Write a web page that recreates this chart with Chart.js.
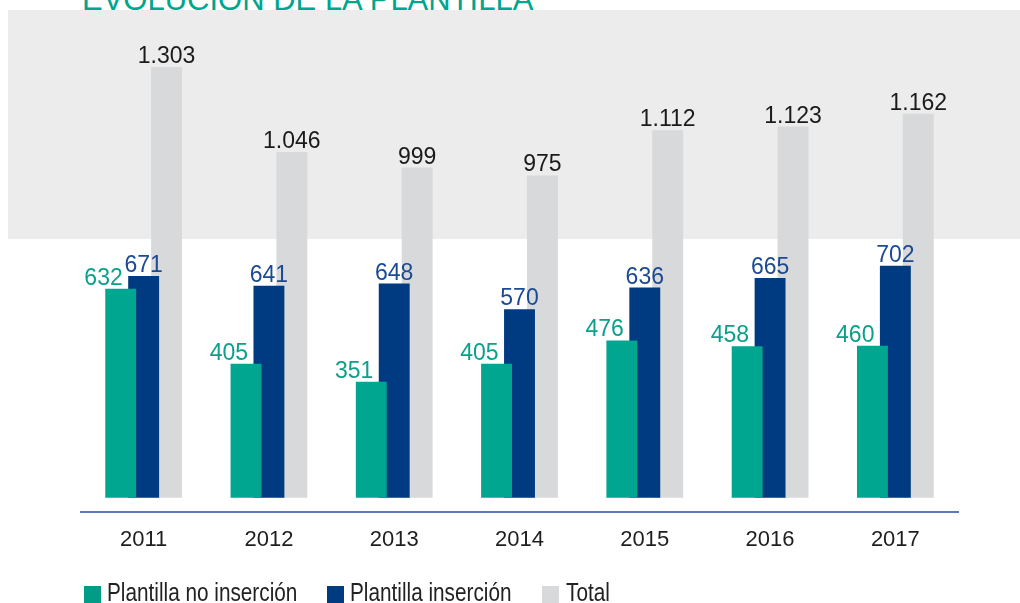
<!DOCTYPE html>
<html>
<head>
<meta charset="utf-8">
<script src="https://cdn.jsdelivr.net/npm/chart.js@4.4.0/dist/chart.umd.min.js"></script>
<style>
  body { margin: 0; width: 1020px; height: 603px; overflow: hidden; background: #fff; position: relative; font-family: "Liberation Sans", Arial, sans-serif; }
  .titulo { position: absolute; left: 82px; top: -16px; font-size: 31px; line-height: 31px; color: #00a58e; white-space: nowrap; }
  .banda { position: absolute; left: 8px; top: 10px; right: 0; height: 229px; background: #ebeceb; }
  #grafico { position: absolute; left: 0; top: 0; }
  .cuadro { position: absolute; top: 586px; width: 17px; height: 17px; }
  .texto { position: absolute; top: 580px; font-size: 25px; line-height: 25px; color: #222; white-space: nowrap; transform: scaleX(0.83); transform-origin: left top; }
</style>
</head>
<body>
<div class="titulo">EVOLUCIÓN DE LA PLANTILLA</div>
<div class="banda"></div>
<canvas id="grafico" width="1020" height="603"></canvas>
<div class="cuadro" style="left:84px; background:#009c86"></div>
<div class="texto" style="left:107px">Plantilla no inserción</div>
<div class="cuadro" style="left:327px; background:#003a80"></div>
<div class="texto" style="left:350px">Plantilla inserción</div>
<div class="cuadro" style="left:542px; background:#d8d9db"></div>
<div class="texto" style="left:566px">Total</div>
<script>
const anios = ['2011', '2012', '2013', '2014', '2015', '2016', '2017'];
const noInsercion = [632, 405, 351, 405, 476, 458, 460];
const insercion = [671, 641, 648, 570, 636, 665, 702];
const total = [1303, 1046, 999, 975, 1112, 1123, 1162];

// formato con punto de miles
function miles(v) {
  return String(v).replace(/\B(?=(\d{3})+(?!\d))/g, '.');
}

const etiquetas = {
  id: 'etiquetas',
  afterDatasetsDraw(chart) {
    const ctx = chart.ctx;
    ctx.save();
    ctx.font = '23px "Liberation Sans", Arial, sans-serif';
    ctx.textBaseline = 'alphabetic';
    chart.data.datasets.forEach((ds, i) => {
      chart.getDatasetMeta(i).data.forEach((bar, j) => {
        ctx.fillStyle = ds.labelColor;
        if (i === 0) {
          ctx.textAlign = 'right';
          ctx.fillText(miles(ds.data[j]), bar.x + 2, bar.y - 4);
        } else {
          ctx.textAlign = 'center';
          ctx.fillText(miles(ds.data[j]), bar.x, bar.y - 4);
        }
      });
    });
    ctx.restore();
  }
};

const ctx = document.getElementById('grafico').getContext('2d');
const grafico = new Chart(ctx, {
  type: 'bar',
  data: {
    labels: anios,
    datasets: [{
      label: 'Plantilla no inserción',
      data: noInsercion,
      backgroundColor: '#00a690',
      labelColor: '#0aa08a'
    }, {
      label: 'Plantilla inserción',
      data: insercion,
      backgroundColor: '#003a80',
      labelColor: '#1c4a92'
    }, {
      label: 'Total',
      data: total,
      backgroundColor: '#d8d9db',
      labelColor: '#1a1a1a'
    }]
  },
  options: {
    responsive: false,
    animation: false,
    devicePixelRatio: 1,
    categoryPercentage: 0.549,
    barPercentage: 1.348,
    layout: {
      padding: { left: 81, right: 62, top: 35, bottom: 35 }
    },
    plugins: {
      legend: { display: false },
      tooltip: { enabled: false }
    },
    scales: {
      x: {
        grid: { display: false, drawTicks: false },
        border: { color: '#5b7db1', width: 2 },
        ticks: {
          color: '#1e1e1e',
          padding: 15,
          font: { family: '"Liberation Sans", Arial, sans-serif', size: 22 }
        }
      },
      y: {
        display: false,
        min: -42,
        max: 1400
      }
    }
  },
  plugins: [etiquetas]
});
</script>
</body>
</html>
